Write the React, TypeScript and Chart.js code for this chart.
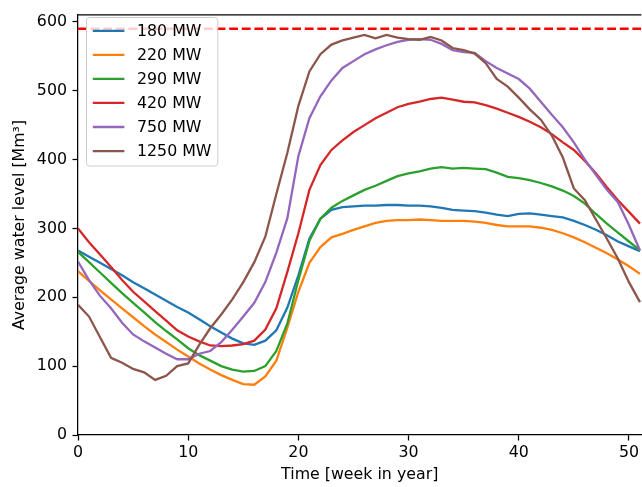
import React, { useEffect, useRef } from "react";
import { Chart, registerables } from "chart.js";

Chart.register(...registerables);

// ---- Data ----
const weeks = [
  0, 1, 2, 3, 4, 5, 6, 7, 8, 9, 10, 11, 12, 13, 14, 15, 16, 17, 18, 19, 20, 21, 22, 23, 24, 25,
  26, 27, 28, 29, 30, 31, 32, 33, 34, 35, 36, 37, 38, 39, 40, 41, 42, 43, 44, 45, 46, 47, 48, 49, 50, 51,
];

const level180 = [
  268, 259, 250, 241, 232, 222, 213, 204, 195, 186, 178, 168, 158, 149, 140, 133, 131, 137, 152, 185,
  232, 285, 314, 327, 331, 332, 333, 333, 334, 334, 333, 333, 332, 330, 327, 326, 325, 323, 320, 318,
  321, 322, 320, 318, 316, 311, 305, 298, 290, 281, 274, 267,
];

const level220 = [
  238, 224, 210, 197, 184, 171, 158, 146, 135, 124, 114, 104, 95, 87, 80, 74, 73, 85, 108, 156,
  208, 250, 273, 287, 292, 298, 303, 308, 311, 312, 312, 313, 312, 311, 311, 311, 310, 308, 305, 303,
  303, 303, 301, 298, 293, 287, 280, 272, 264, 255, 245, 234,
];

const level290 = [
  266, 251, 236, 221, 206, 192, 178, 164, 151, 139, 126, 116, 108, 100, 95, 92, 93, 100, 122, 162,
  225, 282, 314, 330, 340, 348, 356, 362, 369, 376, 380, 383, 387, 389, 387, 388, 387, 386, 381, 375,
  373, 370, 366, 361, 355, 347, 336, 321, 307, 294, 281, 268,
];

const level420 = [
  300, 280, 262, 244, 225, 208, 194, 180, 166, 152, 143, 136, 130, 129, 130, 132, 137, 153, 184, 237,
  293, 356, 392, 414, 428, 440, 450, 460, 468, 476, 481, 484, 488, 490, 487, 484, 483, 479, 474, 468,
  462, 455, 447, 437, 425, 414, 398, 380, 360, 341, 324, 307,
];

const level750 = [
  252, 225, 202, 184, 163, 146, 136, 127, 118, 110, 110, 118, 122, 135, 153, 172, 192, 222, 265, 315,
  405, 460, 492, 515, 533, 543, 553, 560, 566, 571, 574, 575, 574, 568, 559, 556, 555, 543, 533, 525,
  517, 503, 484, 465, 447, 425, 400, 378, 356, 338, 305, 268,
];

const level1250 = [
  189, 172, 142, 112, 105, 96, 91, 80, 86, 100, 104, 131, 155, 175, 197, 222, 251, 288, 350, 410,
  478, 528, 553, 567, 573, 577, 581, 576, 581, 577, 575, 574, 578, 573, 562, 559, 554, 540, 517, 506,
  490, 473, 458, 435, 403, 358, 341, 313, 285, 256, 222, 193,
];

const seriesLabels = ["180 MW", "220 MW", "290 MW", "420 MW", "750 MW", "1250 MW"];
const seriesColors = ["#1f77b4", "#ff7f0e", "#2ca02c", "#d62728", "#9467bd", "#8c564b"];

const maxLevel = 590;
const xTicks = [0, 10, 20, 30, 40, 50];
const yTicks = [0, 100, 200, 300, 400, 500, 600];
const xMax = 51.13;
const yMax = 610;

const xTitle = "Time [week in year]";
const yTitle = "Average water level [Mm³]";

export default function App() {
  const ref = useRef<HTMLCanvasElement>(null);

  useEffect(() => {
    if (!ref.current) return;
    const FONT = "'DejaVu Sans', sans-serif";
    const FS = 15.8;
    const LW = 2.3;
    const SPINE = 1.26;

    const allSeries = [level180, level220, level290, level420, level750, level1250];
    const datasets: any[] = allSeries.map((vals, i) => ({
      label: seriesLabels[i],
      data: weeks.map((w, j) => ({ x: w, y: vals[j] })),
      borderColor: seriesColors[i],
      backgroundColor: seriesColors[i],
      borderWidth: LW,
      pointRadius: 0,
      tension: 0,
      fill: false,
      order: allSeries.length - i + 1,
    }));
    datasets.push({
      label: "limit",
      data: [
        { x: 0, y: maxLevel },
        { x: xMax, y: maxLevel },
      ],
      borderColor: "#ff0000",
      borderDash: [8.8, 3.8],
      borderWidth: LW,
      pointRadius: 0,
      fill: false,
      order: 0,
    });

    const overlay = {
      id: "overlay",
      afterDatasetsDraw(chart: any) {
        const { ctx, chartArea } = chart;
        ctx.save();
        // top spine
        ctx.strokeStyle = "#000";
        ctx.lineWidth = SPINE;
        ctx.beginPath();
        ctx.moveTo(chartArea.left, chartArea.top);
        ctx.lineTo(chartArea.right, chartArea.top);
        ctx.stroke();

        // legend (matplotlib-like)
        ctx.font = `${FS}px ${FONT}`;
        const lx = 86.5;
        const ly = 17.5;
        const pad = 6.3;
        const handleLen = 31.6;
        const textGap = 12.6;
        const pitch = 24.05;
        const textW = Math.max(...seriesLabels.map((l) => ctx.measureText(l).width));
        const w = pad + handleLen + textGap + textW + pad;
        const h = 148.5;
        const r = 3.2;
        ctx.beginPath();
        ctx.moveTo(lx + r, ly);
        ctx.lineTo(lx + w - r, ly);
        ctx.quadraticCurveTo(lx + w, ly, lx + w, ly + r);
        ctx.lineTo(lx + w, ly + h - r);
        ctx.quadraticCurveTo(lx + w, ly + h, lx + w - r, ly + h);
        ctx.lineTo(lx + r, ly + h);
        ctx.quadraticCurveTo(lx, ly + h, lx, ly + h - r);
        ctx.lineTo(lx, ly + r);
        ctx.quadraticCurveTo(lx, ly, lx + r, ly);
        ctx.closePath();
        ctx.fillStyle = "rgba(255,255,255,0.8)";
        ctx.fill();
        ctx.strokeStyle = "#cccccc";
        ctx.lineWidth = 1;
        ctx.stroke();

        ctx.textAlign = "left";
        ctx.textBaseline = "middle";
        seriesLabels.forEach((lab, i) => {
          const cy = ly + pad + 7 + i * pitch;
          ctx.strokeStyle = seriesColors[i];
          ctx.lineWidth = LW;
          ctx.beginPath();
          ctx.moveTo(lx + pad, cy);
          ctx.lineTo(lx + pad + handleLen, cy);
          ctx.stroke();
          ctx.fillStyle = "#000";
          ctx.fillText(lab, lx + pad + handleLen + textGap, cy + 1);
        });
        ctx.restore();
      },
    };

    const font = { family: FONT, size: FS };

    const chart = new Chart(ref.current, {
      type: "line",
      data: { datasets },
      options: {
        animation: false,
        responsive: false,
        maintainAspectRatio: false,
        layout: { padding: { top: 9, left: 0, right: 0, bottom: 0 }, autoPadding: false },
        plugins: { legend: { display: false }, tooltip: { enabled: false } },
        scales: {
          x: {
            type: "linear",
            min: 0,
            max: xMax,
            afterBuildTicks: (s: any) => {
              s.ticks = xTicks.map((v) => ({ value: v }));
            },
            afterFit: (s: any) => {
              s.height = 52;
            },
            ticks: { font, color: "#000", padding: 3, maxRotation: 0, autoSkip: false },
            grid: {
              drawOnChartArea: false,
              drawTicks: true,
              tickLength: 5.5,
              tickColor: "#000",
              tickWidth: SPINE,
            },
            border: { display: true, color: "#000", width: SPINE },
            title: {
              display: true,
              text: xTitle,
              font,
              color: "#000",
              padding: { top: 0, bottom: 2.5 },
            },
          },
          y: {
            type: "linear",
            min: 0,
            max: yMax,
            afterBuildTicks: (s: any) => {
              s.ticks = yTicks.map((v) => ({ value: v }));
            },
            afterFit: (s: any) => {
              s.width = 78;
            },
            ticks: { font, color: "#000", padding: 5.5, autoSkip: false },
            grid: {
              drawOnChartArea: false,
              drawTicks: true,
              tickLength: 5.5,
              tickColor: "#000",
              tickWidth: SPINE,
            },
            border: { display: true, color: "#000", width: SPINE },
            title: {
              display: true,
              text: yTitle,
              font,
              color: "#000",
              padding: { top: 10.5, bottom: 0 },
            },
          },
        },
      } as any,
      plugins: [overlay],
    });

    return () => chart.destroy();
  }, []);

  return (
    <div style={{ position: "fixed", left: 0, top: 0, width: 642, height: 487, background: "#fff" }}>
      <canvas ref={ref} width={642} height={487} style={{ width: 642, height: 487, display: "block" }} />
    </div>
  );
}
